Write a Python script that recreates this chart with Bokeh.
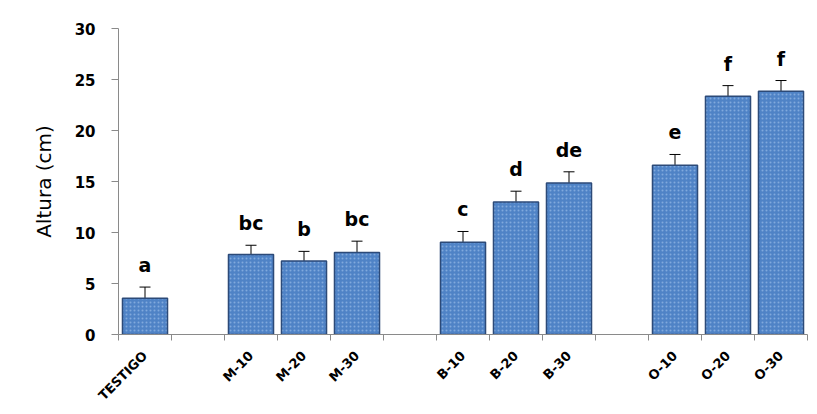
import math
import re
from bokeh.plotting import figure
from bokeh.models import ColumnDataSource, FixedTicker, Whisker, TeeHead, LabelSet, Range1d
from bokeh.core.properties import value
from bokeh.embed import file_html
from bokeh.resources import INLINE

# ---- data ----
slots = ["TESTIGO", "", "M-10", "M-20", "M-30", "", "B-10", "B-20", "B-30", "", "O-10", "O-20", "O-30"]
categories = ["TESTIGO", "M-10", "M-20", "M-30", "B-10", "B-20", "B-30", "O-10", "O-20", "O-30"]
altura = [3.55, 7.85, 7.2, 8.05, 9.05, 13.0, 14.85, 16.6, 23.35, 23.85]
error = [1.1, 0.9, 0.95, 1.1, 1.05, 1.05, 1.1, 1.05, 1.05, 1.05]
letras = ["a", "bc", "b", "bc", "c", "d", "de", "e", "f", "f"]
y_ticks = [0, 5, 10, 15, 20, 25, 30]
y_title = "Altura (cm)"

xpos = [slots.index(c) for c in categories]
top = [a + e for a, e in zip(altura, error)]
src = ColumnDataSource(dict(x=xpos, y=altura, top=top, lab=letras, cat=categories))

p = figure(width=817, height=414, output_backend="svg", toolbar_location=None,
           x_range=Range1d(-0.5, len(slots) - 0.5), y_range=Range1d(0, 30),
           min_border_left=118, min_border_right=10, min_border_top=28, min_border_bottom=80)
p.outline_line_color = None
p.xgrid.grid_line_color = None
p.ygrid.grid_line_color = None
p.background_fill_color = "white"
p.border_fill_color = "white"

p.vbar(x="x", top="y", bottom=0, width=0.85, source=src,
       fill_color="#4f83c6", line_color="#2c4a78", line_width=1.5,
       hatch_pattern="dot", hatch_color="#a9c8ee", hatch_alpha=0.55, hatch_scale=4)

wh = Whisker(base="x", upper="top", lower="y", source=src, dimension="height",
             line_color="black", line_width=1,
             upper_head=TeeHead(size=11, line_color="black", line_width=1), lower_head=None)
p.add_layout(wh)

labels = LabelSet(x="x", y="top", text="lab", source=src, y_offset=15,
                  text_align="center", text_baseline="alphabetic",
                  text_font=value("DejaVu Sans"), text_font_style="bold",
                  text_font_size=value("19px"), text_color="black")
p.add_layout(labels)

# y axis
p.yaxis.ticker = FixedTicker(ticks=y_ticks)
p.yaxis.axis_line_color = "#8a8a8a"
p.yaxis.major_tick_line_color = "#8a8a8a"
p.yaxis.major_tick_out = 7
p.yaxis.major_tick_in = 0
p.yaxis.minor_tick_line_color = None
p.yaxis.major_label_text_font = "DejaVu Sans"
p.yaxis.major_label_text_font_style = "bold"
p.yaxis.major_label_text_font_size = "15px"
p.yaxis.major_label_text_color = "black"
p.yaxis.major_label_standoff = 16
p.yaxis.axis_label = y_title
p.yaxis.axis_label_text_font = "DejaVu Sans"
p.yaxis.axis_label_text_font_style = "normal"
p.yaxis.axis_label_text_font_size = "20px"
p.yaxis.axis_label_text_color = "black"
p.yaxis.axis_label_standoff = 16

# x axis
p.xaxis.ticker = FixedTicker(ticks=xpos, minor_ticks=[i - 0.5 for i in range(len(slots) + 1)])
p.xaxis.major_label_overrides = {x: c for x, c in zip(xpos, categories)}
p.xaxis.axis_line_color = "#8a8a8a"
p.xaxis.major_tick_line_color = None
p.xaxis.major_tick_out = 0
p.xaxis.major_tick_in = 0
p.xaxis.minor_tick_line_color = "#8a8a8a"
p.xaxis.minor_tick_out = 6
p.xaxis.minor_tick_in = 0
p.xaxis.major_label_orientation = math.pi / 4
p.xaxis.major_label_text_font = "DejaVu Sans"
p.xaxis.major_label_text_font_style = "bold"
p.xaxis.major_label_text_font_size = "13px"
p.xaxis.major_label_text_color = "black"
p.xaxis.major_label_standoff = 13

html = file_html(p, INLINE)
# chart-area frame: only its left and top edges fall inside the picture
frame_css = ("<div style='position:absolute;left:10px;top:7px;width:3px;height:407px;"
             "background:black;z-index:100'></div>"
             "<div style='position:absolute;left:10px;top:7px;width:807px;height:3px;"
             "background:black;z-index:100'></div>")
html = re.sub(r"(<body[^>]*>)", lambda m: m.group(1) + frame_css, html, count=1)
open("out.html", "w").write(html)
